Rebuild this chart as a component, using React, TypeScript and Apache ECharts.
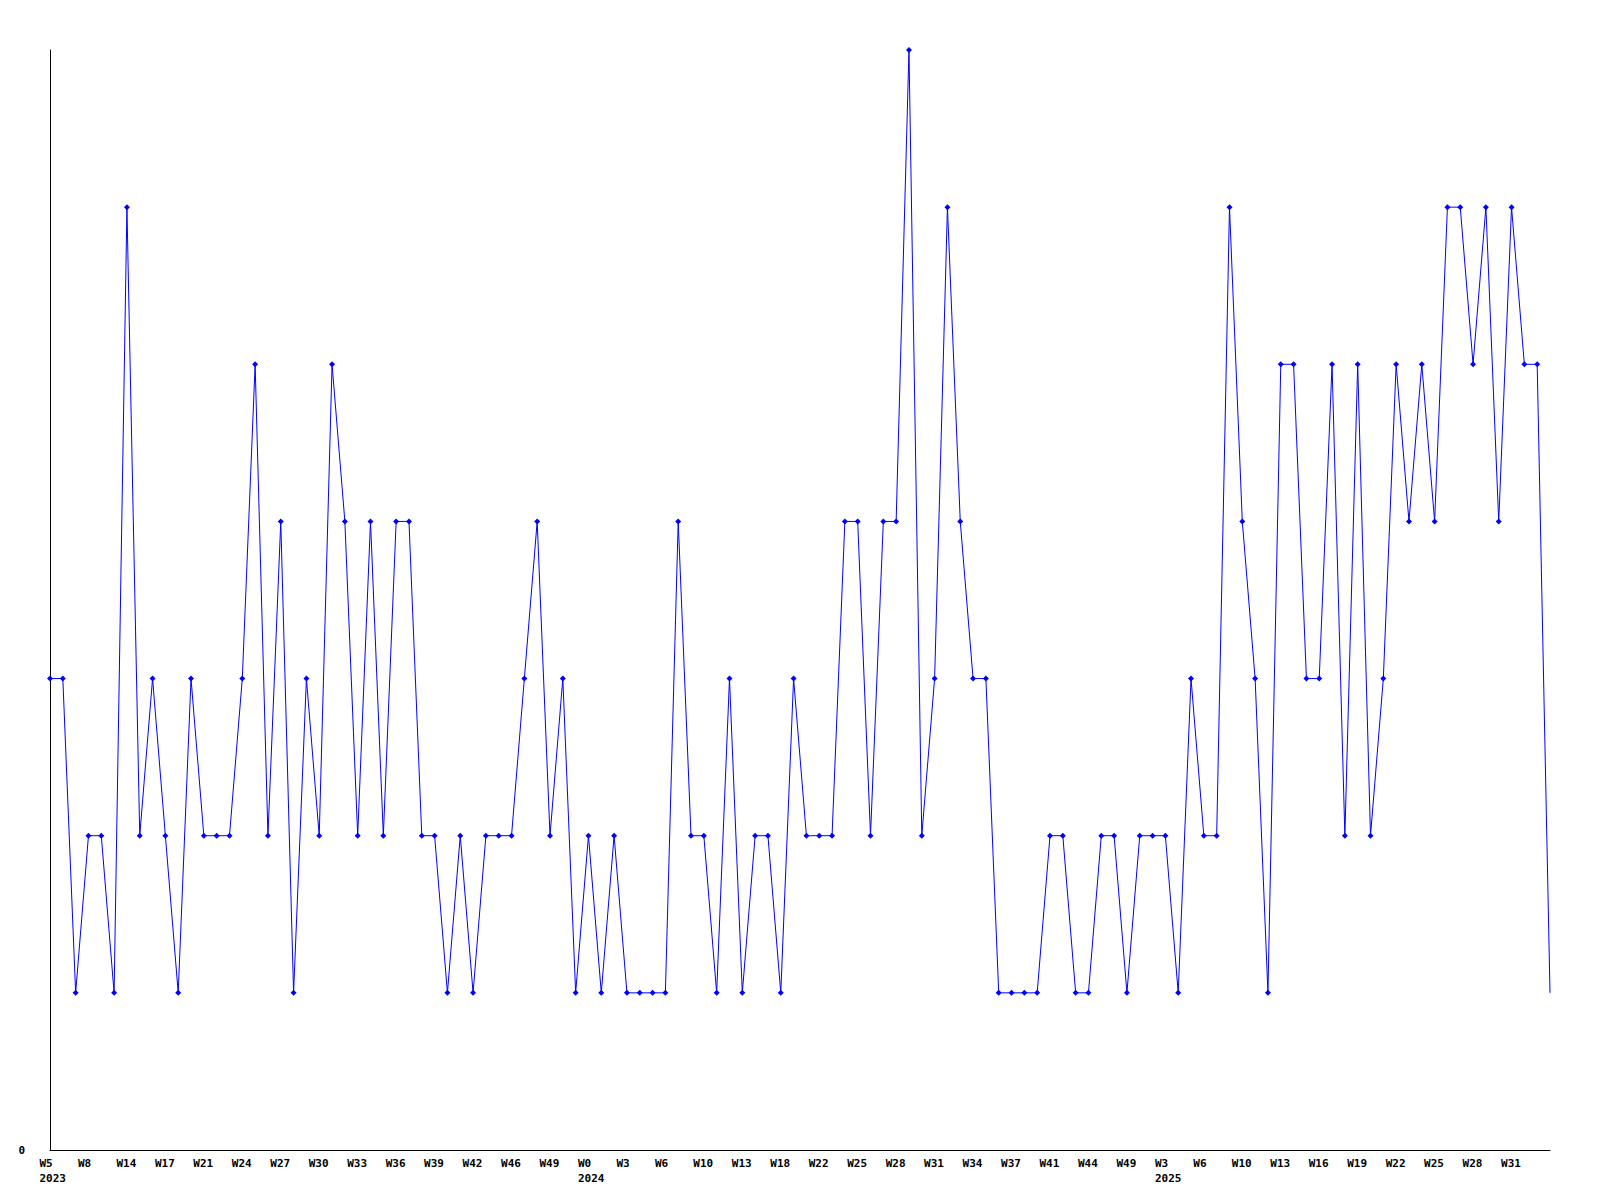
import React, { useEffect, useRef } from "react";
import * as echarts from "echarts";

const weekLabels: string[] = [
  "W5", "W6", "W7", "W8", "W10", "W12", "W14", "W15", "W16", "W17",
  "W19", "W20", "W21", "W22", "W23", "W24", "W25", "W26", "W27", "W28",
  "W29", "W30", "W31", "W32", "W33", "W34", "W35", "W36", "W37", "W38",
  "W39", "W40", "W41", "W42", "W43", "W45", "W46", "W47", "W48", "W49",
  "W50", "W52", "W0", "W1", "W2", "W3", "W4", "W5", "W6", "W7",
  "W9", "W10", "W11", "W12", "W13", "W15", "W17", "W18", "W20", "W21",
  "W22", "W23", "W24", "W25", "W26", "W27", "W28", "W29", "W30", "W31",
  "W32", "W33", "W34", "W35", "W36", "W37", "W38", "W40", "W41", "W42",
  "W43", "W44", "W45", "W47", "W49", "W50", "W52", "W3", "W4", "W5",
  "W6", "W8", "W9", "W10", "W11", "W12", "W13", "W14", "W15", "W16",
  "W17", "W18", "W19", "W20", "W21", "W22", "W23", "W24", "W25", "W26",
  "W27", "W28", "W29", "W30", "W31", "W32", "W33", "W34",
];

const yearStartIndex: number[] = [0, 42, 87];
const yearLabels: string[] = ["2023", "2024", "2025"];

const counts: number[] = [
  3, 3, 1, 2, 2, 1, 6, 2, 3, 2,
  1, 3, 2, 2, 2, 3, 5, 2, 4, 1,
  3, 2, 5, 4, 2, 4, 2, 4, 4, 2,
  2, 1, 2, 1, 2, 2, 2, 3, 4, 2,
  3, 1, 2, 1, 2, 1, 1, 1, 1, 4,
  2, 2, 1, 3, 1, 2, 2, 1, 3, 2,
  2, 2, 4, 4, 2, 4, 4, 7, 2, 3,
  6, 4, 3, 3, 1, 1, 1, 1, 2, 2,
  1, 1, 2, 2, 1, 2, 2, 2, 1, 3,
  2, 2, 6, 4, 3, 1, 5, 5, 3, 3,
  5, 2, 5, 2, 3, 5, 4, 5, 4, 6,
  6, 5, 6, 4, 6, 5, 5, 1,
];

const yMin = 0;
const yMax = 7;
const labelStep = 3;
const lastLabelIndex = 114;

const FONT = "DejaVu Sans Mono";

export default function App() {
  const ref = useRef<HTMLDivElement>(null);

  useEffect(() => {
    if (!ref.current) return;
    const chart = echarts.init(ref.current, undefined, { renderer: "svg" });
    const lastIdx = counts.length - 1;
    const data = counts.map((v, i) =>
      i === lastIdx ? { value: [i, v], symbol: "none" } : { value: [i, v] }
    );
    chart.setOption({
      animation: false,
      backgroundColor: "#ffffff",
      grid: { left: 50, top: 50, width: 1500, height: 1100, containLabel: false },
      xAxis: {
        type: "value",
        min: 0,
        max: lastIdx,
        interval: labelStep,
        splitLine: { show: false },
        axisTick: { show: false },
        axisLine: { show: true, lineStyle: { color: "#000000", width: 1 } },
        axisLabel: {
          show: true,
          showMaxLabel: false,
          margin: 6,
          align: "center",
          formatter: (v: number) => {
            const idx = Math.round(v);
            if (Math.abs(v - idx) > 1e-6 || idx % labelStep !== 0 || idx > lastLabelIndex) return "";
            const w = weekLabels[idx];
            const yi = yearStartIndex.indexOf(idx);
            if (yi >= 0) return `{a|${w}}\n{a|${yearLabels[yi]}}`;
            return `{a|${w}}`;
          },
          rich: {
            a: {
              width: 21,
              align: "left",
              fontFamily: FONT,
              fontSize: 11,
              fontWeight: "bold",
              color: "#000000",
              lineHeight: 15,
            },
          },
        },
      },
      yAxis: {
        type: "value",
        min: yMin,
        max: yMax,
        interval: yMax,
        splitLine: { show: false },
        axisTick: { show: false },
        axisLine: { show: true, lineStyle: { color: "#000000", width: 1 } },
        axisLabel: {
          margin: 25,
          fontFamily: FONT,
          fontSize: 11,
          fontWeight: "bold",
          color: "#000000",
          formatter: (v: number) => (v === 0 ? "0" : ""),
        },
      },
      series: [
        {
          type: "line",
          data,
          clip: false,
          symbol: "diamond",
          symbolSize: 6,
          showSymbol: true,
          showAllSymbol: true,
          lineStyle: { color: "#0000ff", width: 1 },
          itemStyle: { color: "#0000ff", borderWidth: 0 },
          emphasis: { disabled: true },
        },
      ],
    });
    return () => chart.dispose();
  }, []);

  return (
    <div
      ref={ref}
      style={{ position: "fixed", left: 0, top: 0, width: 1600, height: 1200, background: "#fff" }}
    />
  );
}
